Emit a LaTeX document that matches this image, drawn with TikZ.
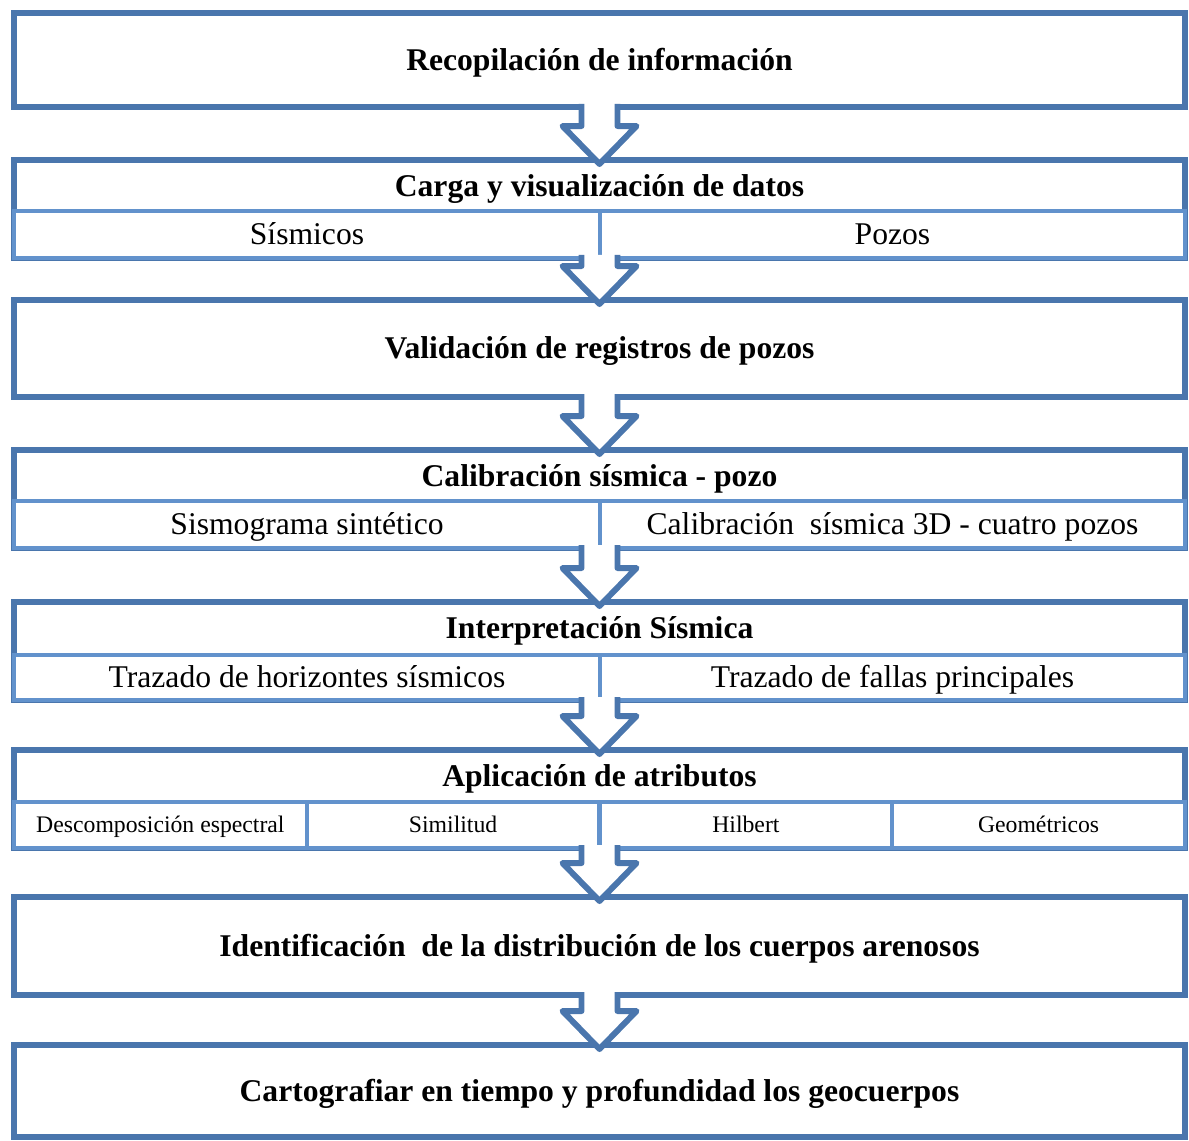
\documentclass[tikz,border=0pt]{standalone}
\usepackage{fontspec}
\setmainfont{Liberation Serif}
\usepackage{xcolor}
\usepackage{tikz}
\usetikzlibrary{calc, shadows}

\definecolor{azulosc}{RGB}{74,118,173}
\definecolor{azulcla}{RGB}{98,146,204}

\begin{document}
\begin{tikzpicture}[
    x=0.02cm, y=-0.02cm,
    caja/.style={draw=azulosc, line width=3.4pt, fill=white, minimum width=23.42cm, inner sep=0pt, outer sep=0pt,
        drop shadow={opacity=0.18, shadow xshift=0.6pt, shadow yshift=-1.6pt}},
    celda/.style={draw=azulcla, line width=2.4pt, fill=white, inner sep=0pt, outer sep=0pt},
    titulo/.style={font=\fontsize{18}{21}\selectfont\bfseries, text height=13.7pt, text depth=1.8pt},
    sub/.style={font=\fontsize{18}{21}\selectfont, text height=13.7pt, text depth=1.8pt},
    chico/.style={font=\fontsize{13.5}{16}\selectfont, text height=10pt, text depth=1.4pt},
    flecha/.style={draw=azulosc, line width=3.4pt, fill=white, line join=round,
        drop shadow={opacity=0.18, shadow xshift=0.6pt, shadow yshift=-1.6pt}},
]
\useasboundingbox (0,0) rectangle (1189,1140);

% cajas simples
\node[caja, minimum height=1.88cm, titulo] (b1) at (599.5,60) {Recopilación de información};
\node[caja, minimum height=1.94cm, titulo] (b3) at (599.5,348.5) {Validación de registros de pozos};
\node[caja, minimum height=1.96cm, titulo] (b7) at (599.5,946) {Identificación~ de la distribución de los cuerpos arenosos};
\node[caja, minimum height=1.84cm, titulo] (b8) at (599.5,1091) {Cartografiar en tiempo y profundidad los geocuerpos};

% carga de datos
\node[caja, minimum height=1.96cm] (b2) at (599.5,209) {};
\node[titulo] (t2) at (599.5,186) {Carga y visualización de datos};
\node[celda, sub, minimum width=11.71cm, minimum height=0.94cm] (s2a) at (307,234.5) {Sísmicos};
\node[celda, sub, minimum width=11.71cm, minimum height=0.94cm] (s2b) at (892.5,234.5) {Pozos};

% calibracion
\node[caja, minimum height=1.96cm] (b4) at (599.5,499) {};
\node[titulo] (t4) at (599.5,476) {Calibración sísmica - pozo};
\node[celda, sub, minimum width=11.71cm, minimum height=0.94cm] (s4a) at (307,524.5) {Sismograma sintético};
\node[celda, sub, minimum width=11.71cm, minimum height=0.94cm] (s4b) at (892.5,524.5) {Calibración~ sísmica 3D - cuatro pozos};

% interpretacion
\node[caja, minimum height=1.96cm] (b5) at (599.5,651) {};
\node[titulo] (t5) at (599.5,628.5) {Interpretación Sísmica};
\node[celda, sub, minimum width=11.71cm, minimum height=0.9cm] (s5a) at (307,677.5) {Trazado de horizontes sísmicos};
\node[celda, sub, minimum width=11.71cm, minimum height=0.9cm] (s5b) at (892.5,677.5) {Trazado de fallas principales};

% atributos
\node[caja, minimum height=1.96cm] (b6) at (599.5,799) {};
\node[titulo] (t6) at (599.5,776) {Aplicación de atributos};
\foreach \i/\txt [count=\k] in {160.4/Descomposición espectral, 453.1/Similitud, 745.9/Hilbert, 1038.6/Geométricos}
    \node[celda, chico, minimum width=5.855cm, minimum height=0.92cm] (s6-\k) at (\i,825) {\txt};

% flechas
\foreach \a/\b in {b1/b2, b2/b3, b3/b4, b4/b5, b5/b6, b6/b7, b7/b8}
    \draw[flecha] ($(\a.south)+(-18,-3)$) -- ($(\b.north)+(-18,-34)$) -- ($(\b.north)+(-37,-34)$)
        -- ($(\b.north)+(0,4)$) -- ($(\b.north)+(37,-34)$) -- ($(\b.north)+(18,-34)$) -- ($(\a.south)+(18,-3)$);

\end{tikzpicture}
\end{document}
